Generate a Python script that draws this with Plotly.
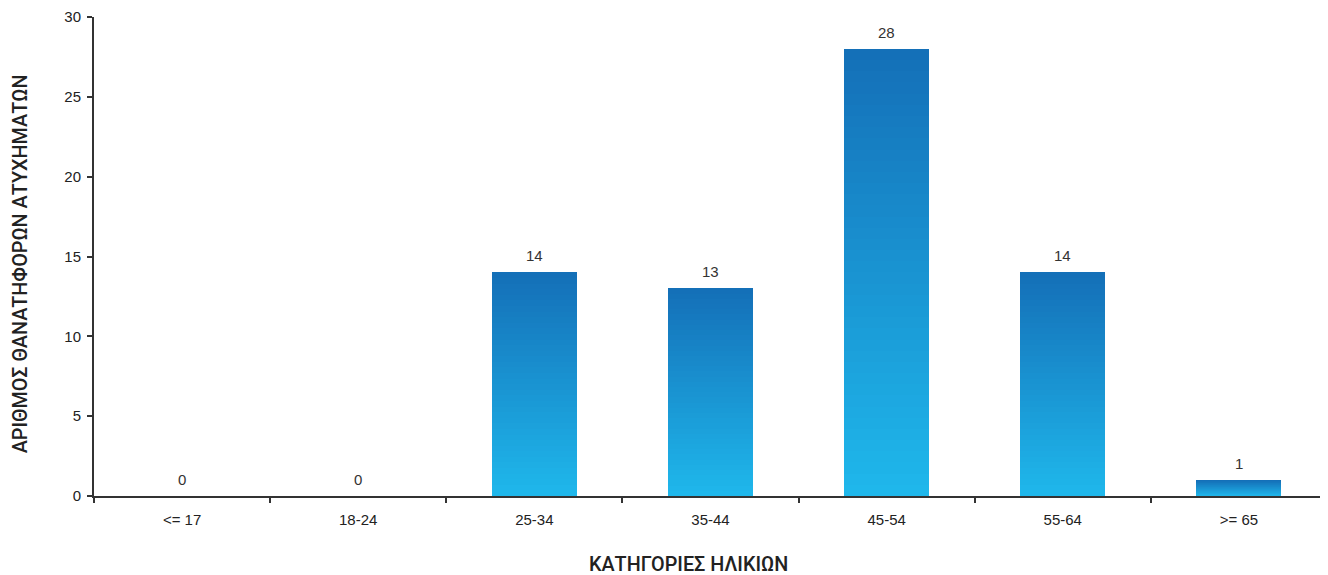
import plotly.graph_objects as go

categories = ["<= 17", "18-24", "25-34", "35-44", "45-54", "55-64", ">= 65"]
values = [0, 0, 14, 13, 28, 14, 1]
y_title = "ΑΡΙΘΜΟΣ ΘΑΝΑΤΗΦΟΡΩΝ ΑΤΥΧΗΜΑΤΩΝ"
x_title = "ΚΑΤΗΓΟΡΙΕΣ ΗΛΙΚΙΩΝ"

top_rgb = (20, 112, 184)
bottom_rgb = (31, 183, 235)
N = 40

fig = go.Figure()
for i in range(N):
    t = i / (N - 1)
    c = tuple(round(bottom_rgb[k] + (top_rgb[k] - bottom_rgb[k]) * t) for k in range(3))
    fig.add_trace(go.Bar(
        x=categories,
        y=[v / N for v in values],
        marker=dict(color="rgb(%d,%d,%d)" % c, line=dict(width=0)),
        showlegend=False,
        hoverinfo="skip",
    ))

for cat, v in zip(categories, values):
    fig.add_annotation(
        x=cat, y=v, text=str(v), showarrow=False,
        yanchor="bottom", yshift=6,
        font=dict(family="Liberation Sans, Arial", size=15, color="#333333"),
    )

title_font = dict(family="Roboto", size=19.8, color="#222222", weight=500)
fig.add_annotation(
    xref="paper", yref="paper", x=0.482, y=-0.142,
    xanchor="center", yanchor="middle",
    text=x_title, showarrow=False, font=title_font,
)
fig.add_annotation(
    xref="paper", yref="paper", x=-0.0595, y=0.485,
    xanchor="center", yanchor="middle", textangle=-90,
    text=y_title, showarrow=False, font=title_font,
)

fig.update_layout(
    barmode="stack",
    bargap=0.518,
    width=1320, height=567,
    margin=dict(l=85.5, r=0.75, t=9, b=79),
    plot_bgcolor="white", paper_bgcolor="white",
    font=dict(family="Liberation Sans, Arial", size=15, color="#222222"),
)
fig.update_xaxes(
    automargin=False,
    showline=True, linecolor="#333333", linewidth=2,
    ticks="outside", tickson="boundaries", ticklen=5, tickcolor="#333333", tickwidth=1.5,
    ticklabelstandoff=9,
    showgrid=False,
    tickfont=dict(family="Liberation Sans, Arial", size=15, color="#222222"),
)
fig.update_yaxes(
    automargin=False,
    range=[0, 30], dtick=5,
    showline=True, linecolor="#333333", linewidth=2,
    ticks="outside", ticklen=5, tickcolor="#333333", tickwidth=1.5,
    ticklabelstandoff=3,
    showgrid=False, zeroline=False,
    tickfont=dict(family="Liberation Sans, Arial", size=15, color="#222222"),
)

fig.write_html("out.html")
